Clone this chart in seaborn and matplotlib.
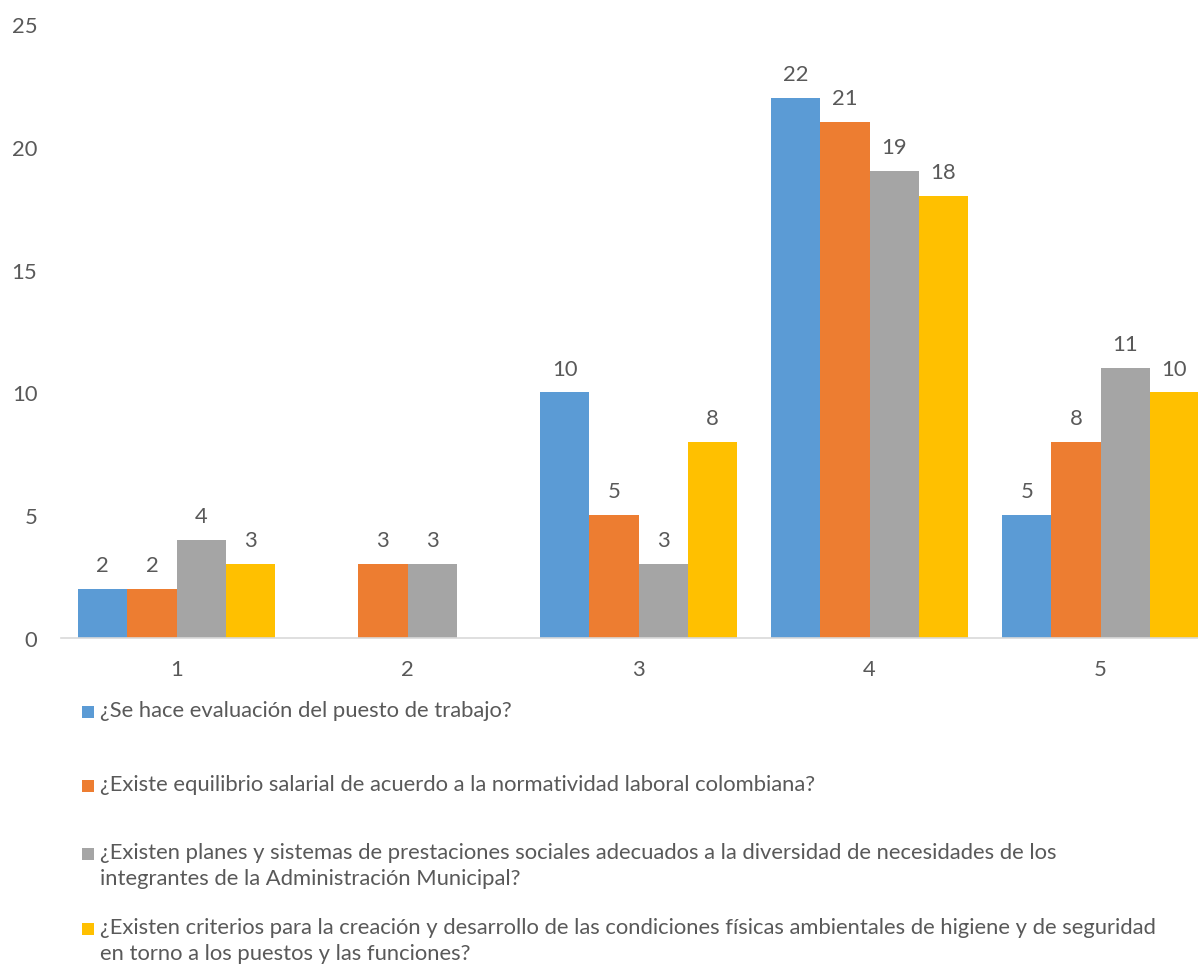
import matplotlib
matplotlib.use("Agg")
import matplotlib.pyplot as plt
from matplotlib.patches import Rectangle
import seaborn as sns
import pandas as pd

categories = ["1", "2", "3", "4", "5"]
evaluacion = [2, 0, 10, 22, 5]
equilibrio = [2, 3, 5, 21, 8]
prestaciones = [4, 3, 3, 19, 11]
criterios = [3, 0, 8, 18, 10]

series_names = [
    "¿Se hace evaluación del puesto de trabajo?",
    "¿Existe equilibrio salarial de acuerdo a la normatividad laboral colombiana?",
    "¿Existen planes y sistemas de prestaciones sociales adecuados a la diversidad de necesidades de los\nintegrantes de la Administración Municipal?",
    "¿Existen criterios para la creación y desarrollo de las condiciones físicas ambientales de higiene y de seguridad\nen torno a los puestos y las funciones?",
]
colors = ["#5B9BD5", "#ED7D31", "#A5A5A5", "#FFC000"]
yticks = [0, 5, 10, 15, 20, 25]

rows = []
for name, vals in zip(series_names, [evaluacion, equilibrio, prestaciones, criterios]):
    for c, v in zip(categories, vals):
        rows.append({"categoria": c, "serie": name, "valor": v})
df = pd.DataFrame(rows)

sns.set_style("white")
plt.rcParams["font.family"] = ["Lato", "DejaVu Sans"]
text_color = "#595959"
fs = 15.8

W, H = 1198, 970
fig = plt.figure(figsize=(W / 100, H / 100), dpi=100)
left_px, right_px = 61, 1216
ax = fig.add_axes([left_px / W, (H - 639) / H, (right_px - left_px) / W, (639 - 25) / H])

sns.barplot(data=df, x="categoria", y="valor", hue="serie", palette=colors,
            order=categories, hue_order=series_names, width=0.85,
            saturation=1, ax=ax, legend=False, linewidth=0)

for cont in ax.containers:
    labels = [f"{int(b.get_height())}" if b.get_height() > 0 else "" for b in cont]
    ax.bar_label(cont, labels=labels, padding=10, fontsize=fs, color=text_color)

ax.set_ylim(0, 25)
ax.set_xlim(-0.5, 4.5)
ax.set_yticks(yticks)
ax.set_yticklabels([str(t) for t in yticks])
ax.set_xlabel("")
ax.set_ylabel("")
ax.tick_params(axis="both", length=0, labelsize=fs, colors=text_color)
ax.tick_params(axis="y", pad=17)
ax.tick_params(axis="x", pad=15)
for s in ["left", "right", "top"]:
    ax.spines[s].set_visible(False)
ax.spines["bottom"].set_color("#D9D9D9")
ax.spines["bottom"].set_linewidth(1.2)

# Legend entries stacked below the plot
legend_y = [713, 787, 855, 930]
for name, col, y in zip(series_names, colors, legend_y):
    fig.patches.append(Rectangle((82 / W, (H - y - 6) / H), 12 / W, 12 / H,
                                 transform=fig.transFigure, facecolor=col,
                                 edgecolor="none"))
    fig.text(100 / W, (H - y + 12) / H, name, fontsize=fs, color=text_color,
             va="top", ha="left", linespacing=1.4,
             transform=fig.transFigure)

fig.savefig("out.png", dpi=100)
